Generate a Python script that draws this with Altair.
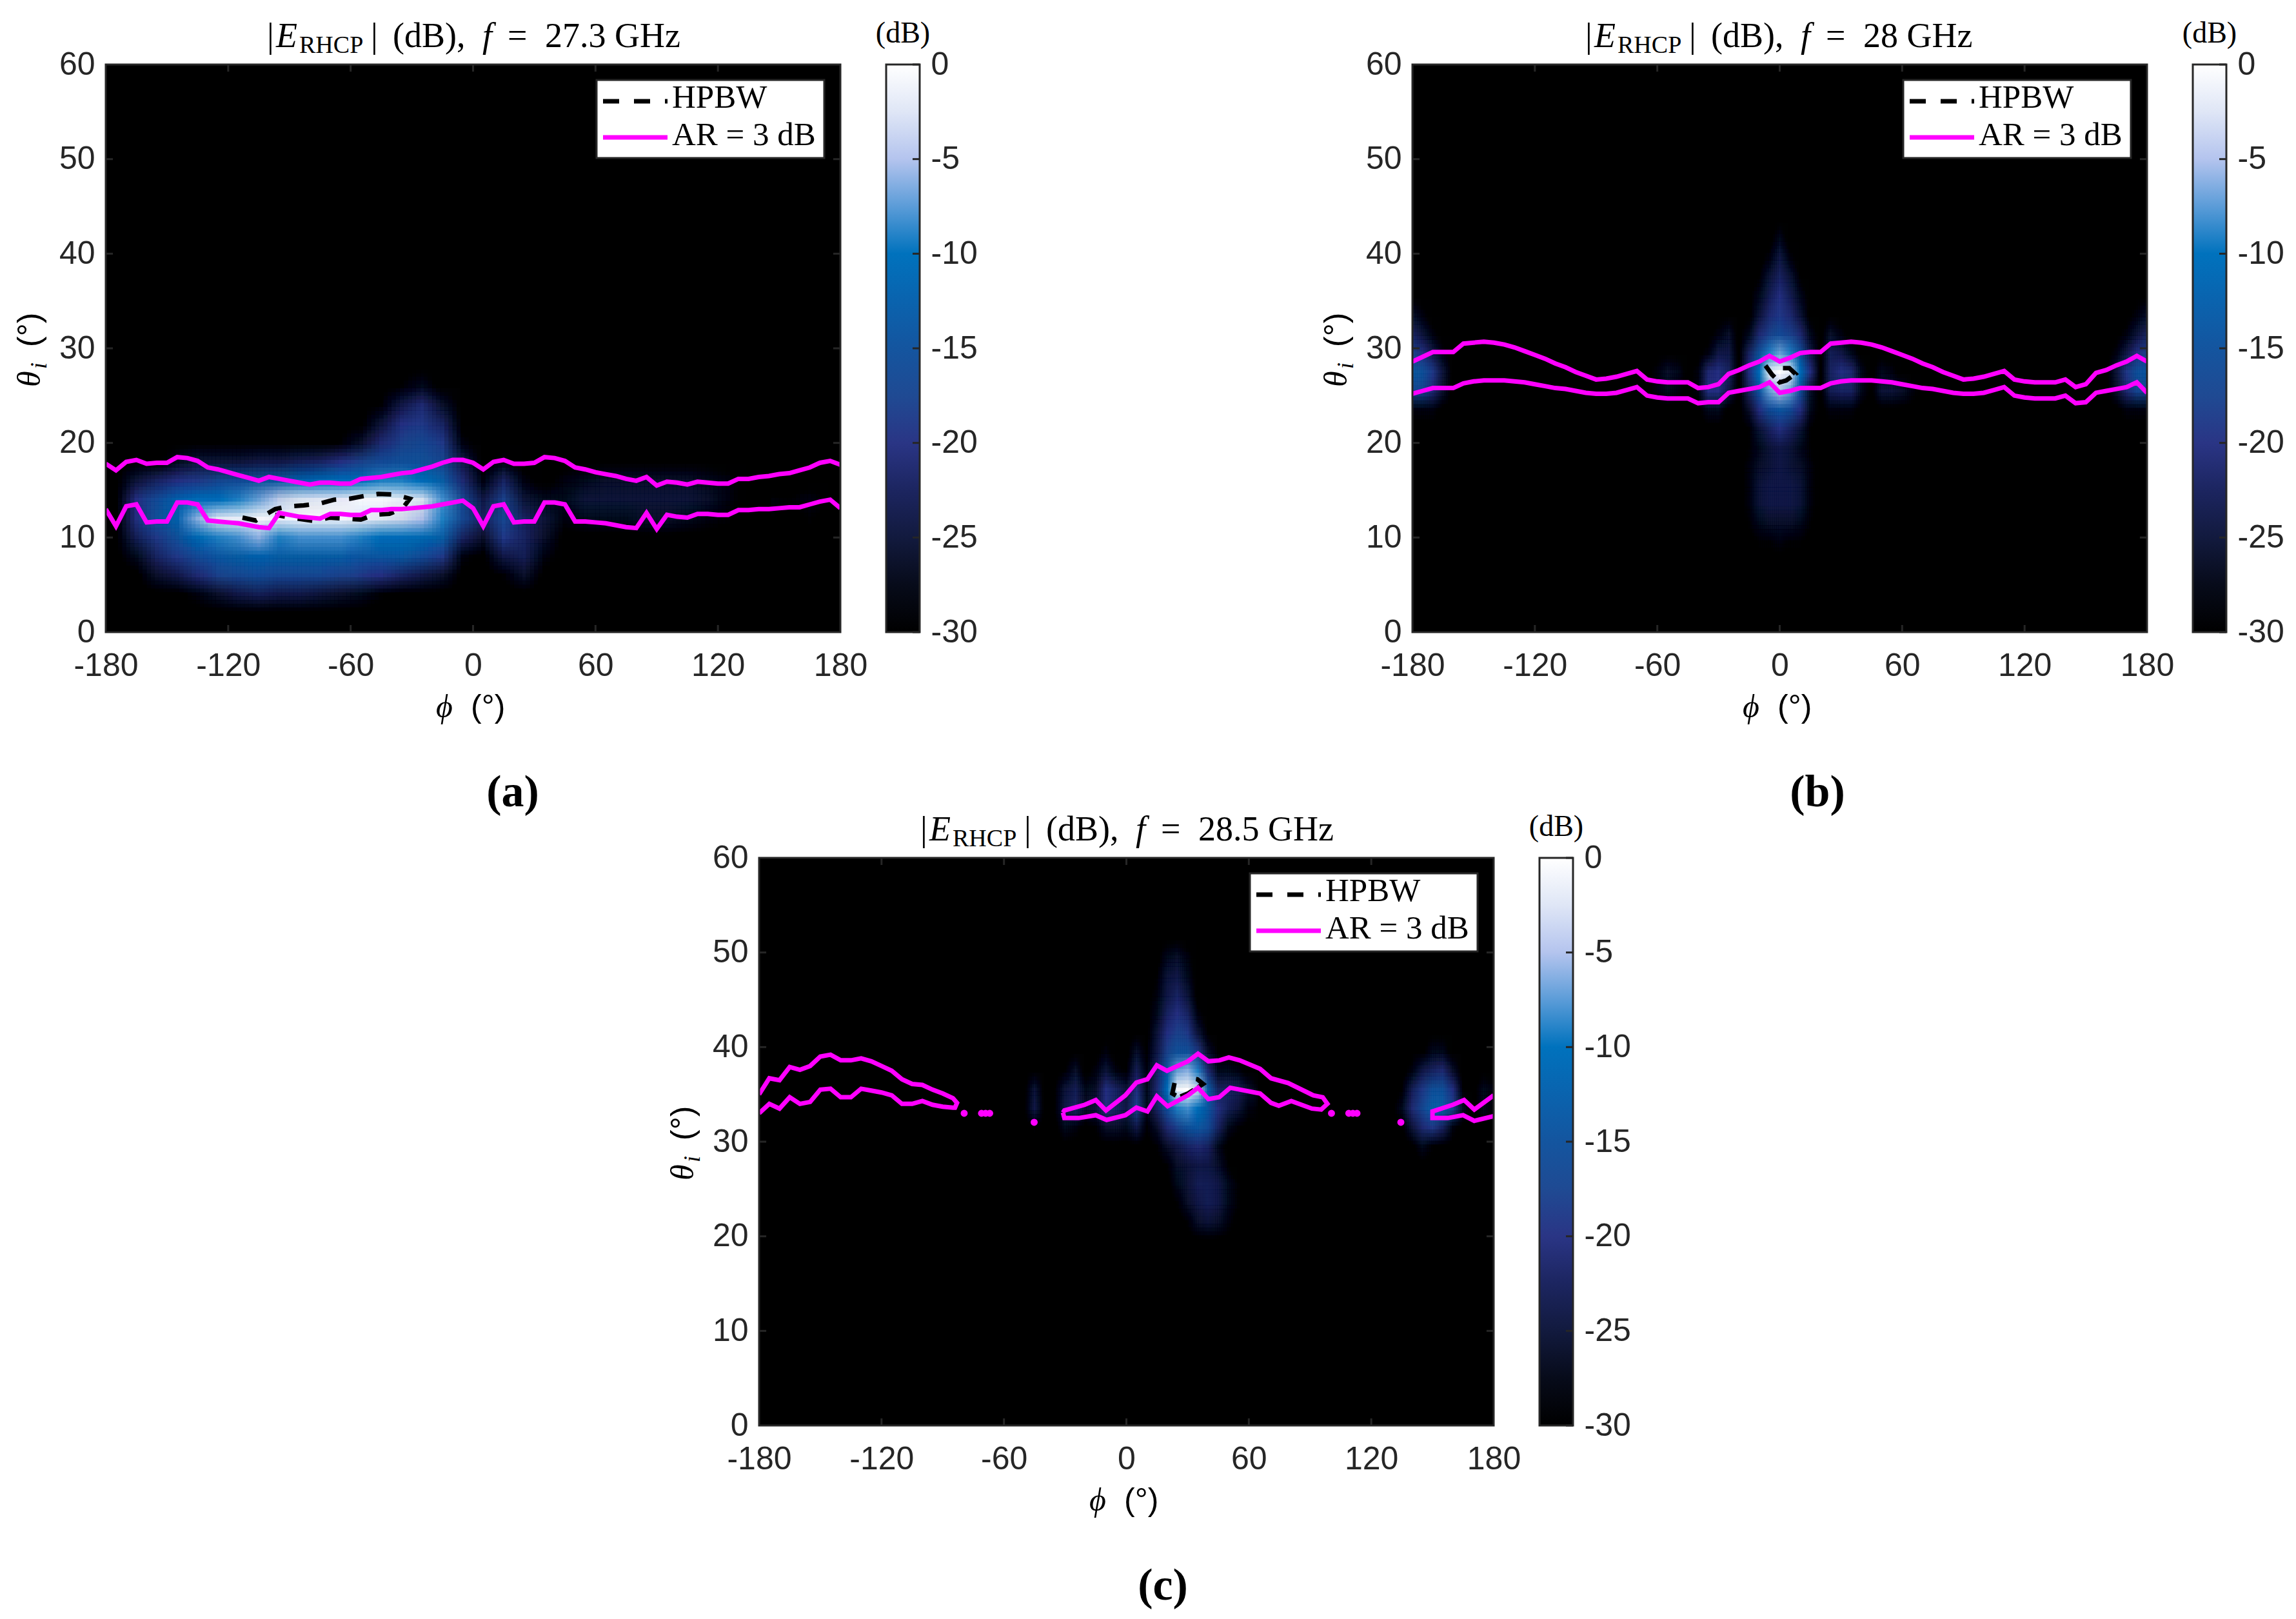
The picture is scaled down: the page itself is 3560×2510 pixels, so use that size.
import altair as alt
import pandas as pd

# ---------- values ----------
PHI_TICKS = [-180, -120, -60, 0, 60, 120, 180]
THETA_TICKS = [0, 10, 20, 30, 40, 50, 60]
CB_TICKS = [0, -5, -10, -15, -20, -25, -30]
CB_VALUES = [-30, -27.5, -25, -22.5, -20, -17.5, -15, -12.5, -10, -7.5, -5, -2.5, 0]
CB_COLORS = ["#000000", "#070b1a", "#121a3e", "#1c2560", "#2a3585", "#1f4a93", "#14559f", "#0a63ae",
             "#0072bd", "#5b9cd8", "#b4c4ee", "#dfe6f6", "#ffffff"]

# attenuation below peak (dB) on theta rows / phi columns
A1 = [[30]*23,
      [30]*14+[29,27,30]+[30]*6,
      [30]*13+[29,24,21,26,30]+[30]*5,
      [30]*13+[25,20,19,22,30]+[30]*5,
      [30]*11+[29,26,21,18,17,19,28]+[30]*5,
      [30,30,30,27,25,25,25,24,24,23,22,20,18,16,15,15,17,24,30,28,30,30,30],
      [30,25,22,20,19,17,16,15,14,12,11,10,10,9,9,10,13,21,28,22,28,30,28],
      [30,20,16,12,10,10,9,7,4,2.5,2,1.5,.5,.5,1,2.5,8,17,24,18,25,27,27],
      [30,20,15,12,6,2,1,.5,1,.5,.5,.5,1,2,3,5,9,17,22,17,22,25,28],
      [30,23,19,15,11,9,8,6,9,8,8,8,9,10,10,11,13,22,26,19,22,26,30],
      [30,27,22,19,16,14,13,12,13,13,13,13,14,14,14,16,19,28,30,24,23,28,30],
      [30,30,26,24,21,18,17,16,17,17,17,18,19,20,22,24,26,30,30,29,26,30,30],
      [30,30,30,30,28,26,24,23,24,24,25,26,27,29,30,30,30,30,30,30,30,30,30],
      [30]*23]
A2 = [[30]*9,
      [27,26,26,26,26,26,27,28,30],
      [25,25,25,25,25,25,26,28,30],
      [27,27,27,26,26,27,28,29,30],
      [30]*9]
A3 = [[30,30,30], [29,28,29], [30,29,30], [30,30,30]]

B_CENTER = [[30]*9,
            [30,30,30,30,27,30,30,30,30],
            [30,30,30,28,24,28,30,30,30],
            [30,30,29,25,22,25,29,30,30],
            [30,30,27,23,20,23,27,30,30],
            [30,30,25,21,19,21,25,30,30],
            [30,27,21,18,16,18,21,27,30],
            [30,22,15,9,7,9,15,24,30],
            [30,20,10,1,0,1,10,20,30],
            [30,22,14,7,5,7,15,26,30],
            [30,26,20,16,14,16,20,27,30],
            [30,29,25,22,20,22,25,29,30],
            [30,29,27,25,24,25,27,29,30],
            [30,28,26,25,24,25,26,28,30],
            [30,28,25,24,24,24,25,28,30],
            [30,28,25,24,24,24,25,28,30],
            [30,29,27,26,26,26,27,29,30],
            [30,30,29,29,28,29,29,30,30],
            [30]*9]
B_LEFT = [[30]*5, [30,30,30,28,26], [30,30,28,24,24], [30,28,21,20,22],
          [30,28,20,20,24], [30,30,27,27,30], [30]*5]
B_RIGHT = [[30]*4, [26,28,30,30], [23,24,27,30], [22,20,21,27],
           [23,22,22,27], [28,28,28,30], [30]*4]
B_FAINT_L = [[30]*4, [30,28,26,27], [30,28,27,28], [30]*4]
B_FAINT_R = [[30]*6, [30,27,28,30,30,30], [30,25,25,26,28,30], [30]*6]
B_EDGE_R = [[30]*5, [30,30,30,28,26], [30,30,28,25,22], [30,28,24,20,18],
            [30,25,19,15,14], [30,26,21,17,17], [30,30,28,28,28], [30]*5]
B_EDGE_L = [[30]*5, [26,28,30,30,30], [22,25,28,30,30], [18,20,24,28,30],
            [14,15,19,25,30], [17,17,21,26,30], [28,28,28,30,30], [30]*5]

C_CENTER = [[30]*11,
            [30,30,27,26,28]+[30]*6,
            [30,29,25,24,27]+[30]*6,
            [30,28,24,22,25]+[30]*6,
            [30,27,22,20,22,28]+[30]*5,
            [30,25,20,18,19,25]+[29]+[30]*4,
            [29,24,18,15,15,19,26,29,30,30,30],
            [28,22,14,7,6,9,21,27,27,28,30],
            [27,21,10,.5,0,3,13,22,22,23,26],
            [27,22,15,9,8,10,14,20,23,25,28],
            [29,26,21,18,15,14,16,22,27,29,30],
            [30,29,26,24,22,21,22,27,30,30,30],
            [30,30,29,26,25,24,24,26,29,30,30],
            [30,30,30,27,25,23,23,24,27,29,30],
            [30,30,30,29,26,24,23,24,27,29,30],
            [30,30,30,30,29,26,25,26,28,30,30],
            [30]*11]
C_LEFT = [[30]*12,
          [30,30,30,30,30,30,30,30,28,30,30,26],
          [30,30,30,30,29,26,30,28,25,28,29,23],
          [30,25,30,29,25,23,27,26,20,22,25,20],
          [30,24,30,29,24,22,26,25,20,22,24,18],
          [30,29,30,30,27,28,30,29,26,26,27,24],
          [30]*12]
C_RIGHT = [[30]*11,
           [30,30,30,30,27,27,30,30,30,30,30],
           [30,30,28,24,22,21,26,30,30,30,30],
           [30,29,23,19,15,15,20,29,30,27,28],
           [30,27,21,17,13,13,18,27,30,27,29],
           [30,30,25,21,19,22,28,30,30,30,30],
           [30,30,30,27,29,30,30,30,30,30,30],
           [30]*11]

# AR = 3 dB contours, 5 degree columns
PHI_5 = list(range(-180, 185, 5))
A_UP = [17.8,17.1,18,18.2,17.8,17.9,17.9,18.5,18.4,18.1,17.4,17.2,16.9,16.6,16.3,16.0,16.4,16.2,16.0,15.8,15.6,15.8,15.8,15.7,15.7,16.2,16.3,16.4,16.6,16.8,16.9,17.2,17.5,17.9,18.2,18.2,17.9,17.2,18,18.2,17.8,17.8,17.9,18.5,18.4,18.1,17.4,17.2,16.9,16.7,16.5,16.2,16.0,16.4,15.5,15.9,15.8,15.6,15.9,15.8,15.7,15.7,16.2,16.2,16.4,16.5,16.7,16.8,17.1,17.4,17.9,18.1,17.7]
A_LO = [13,11.2,13.3,13.5,11.6,11.7,11.7,13.7,13.7,13.5,11.8,11.7,11.6,11.5,11.3,11.1,11.0,12.6,12.4,12.2,12.1,12.0,12.5,12.5,12.4,12.4,12.9,12.9,13,13,13.1,13.2,13.3,13.5,13.7,13.9,13.1,11.2,13.3,13.5,11.6,11.7,11.7,13.7,13.7,13.5,11.7,11.7,11.6,11.5,11.3,11.1,11.0,12.6,10.9,12.4,12.2,12.1,12.5,12.5,12.4,12.4,12.9,12.9,13,13,13.1,13.2,13.2,13.5,13.8,14,13.1]
B_UP = [28.6,29.1,29.6,29.6,29.6,30.5,30.6,30.7,30.6,30.4,30.1,29.7,29.3,28.9,28.4,28,27.5,27.1,26.7,26.8,27,27.3,27.6,26.7,26.5,26.4,26.4,26.4,25.8,25.9,26.2,27.3,27.7,28.2,28.6,29.2,28.6,29,29.5,29.6,29.6,30.5,30.6,30.7,30.6,30.4,30.1,29.7,29.3,28.9,28.4,28,27.5,27.1,26.7,26.8,27,27.3,27.6,26.7,26.5,26.4,26.4,26.4,26.7,25.9,26.2,27.4,27.7,28.2,28.6,29.2,28.6]
B_LO = [25.2,25.5,25.8,25.8,25.8,26.3,26.5,26.6,26.6,26.6,26.5,26.4,26.2,26,25.8,25.7,25.5,25.3,25.2,25.2,25.3,25.6,25.9,25,24.8,24.7,24.7,24.7,24.2,24.3,24.3,25.3,25.5,25.7,25.9,26.4,25.3,25.5,25.8,25.8,25.8,26.3,26.5,26.6,26.6,26.6,26.5,26.4,26.2,26,25.8,25.7,25.5,25.3,25.2,25.2,25.3,25.6,25.9,25,24.8,24.7,24.7,24.7,25,24.2,24.3,25.3,25.5,25.7,25.9,26.4,25.3]

C1_PHI = [-180,-175,-170,-165,-160,-155,-150,-145,-140,-135,-130,-125,-120,-115,-110,-105,-100,-95,-90,-85,-83,-84,-85,-90,-95,-100,-105,-110,-115,-120,-125,-130,-135,-140,-145,-150,-155,-160,-165,-170,-175,-180]
C1_TH = [35,36.7,36.5,37.9,37.6,38,39,39.2,38.6,38.6,38.8,38.5,38,37.5,36.6,36.1,36,35.5,35.1,34.6,34.1,33.6,33.6,33.7,33.9,34.3,34,34,34.9,35.2,35.4,35.6,34.7,34.7,35.6,35.5,34.2,34,34.7,33.5,34,33]
C2_PHI = [-31.1,-30.4,-20.4,-15,-10,-0.5,4.9,10.3,14.9,19.9,30.2,35.1,40.2,45.6,50.2,55.5,65.5,70.9,79.3,91.6,96.2,98.5,95.5,90.9,80.8,74.7,70.9,65.5,50.9,45.5,40.2,35.1,30.2,20.2,14.9,10.3,4.9,-0.5,-9.7,-15,-23.4,-30.4,-31.1]
C2_TH = [33.07,33.3,33.9,34.4,33.3,34.9,36.25,36.6,38.07,37.5,38.5,39.3,38.5,38.6,38.9,38.6,37.7,36.7,36.2,34.9,34.7,34,33.4,33.5,34.3,33.8,34.1,35.1,35.7,34.7,34.5,35.7,34.9,33.75,34.8,33.2,33.6,32.8,32.3,32.8,32.5,32.5,33.07]
C3_PHI = [180,170.5,165.5,160,150,150,157.5,165,170.5,180]
C3_TH = [34.9,33.4,34.4,33.9,33.2,32.5,32.5,32.8,32.2,32.7]
C_DOT_PHI = [-79.5,-71,-69,-67,-45.2,100.5,109,111,113,134.5]
C_DOT_TH = [33,33,33,33,32.05,33,33,33,33,32.05]

A_HP_PHI = [-113,-106.4,-101,-97,-90.4,-83,-75,-68,-60.5,-53,-46.5,-38.5,-31,-34.5,-41,-48.5,-55,-63,-70.5,-78,-89,-97]
A_HP_TH = [12.1,11.8,12.5,13,13.3,13.4,13.6,14,14.1,14.4,14.6,14.55,14.1,13.1,12.5,12.4,11.9,12,12.1,11.75,12.1,12.4]
B_HP_PHI = [1.6,4.7,7.7,3.2,0,-3.2,-3.7,-7.4]
B_HP_TH = [27.9,27.9,27.3,26.6,26.4,27.1,27.2,28.3]
C_HP_PHI = [23.6,22.5,25.6,30.2,34.8,37.6,34.8,31.7]
C_HP_TH = [36.2,35.1,34.7,35.1,35.7,36.1,36.6,36.7]

# ---------- style ----------
W, H = 1139, 880
INK = "#262626"
MAG = "#ff00ff"
SANS = "Liberation Sans"
SERIF = "Liberation Serif"
BLUR = [-0.4, -0.2, 0.0, 0.2, 0.4]
xs = alt.Scale(domain=[-180, 180], nice=False, zero=False)
ys = alt.Scale(domain=[0, 60], nice=False, zero=False)
cs = alt.Scale(domain=CB_VALUES, range=CB_COLORS, interpolate="rgb", clamp=True)
LBL = dict(labelFont=SANS, labelFontSize=50, labelColor=INK, tickSize=0, domain=False, grid=False,
           labelFlush=False, labelOverlap=False, labelExpr="'' + datum.value", title=None)
XAX = alt.Axis(values=PHI_TICKS, labelPadding=27, **LBL)
YAX = alt.Axis(values=THETA_TICKS, labelPadding=17, **LBL)


def cells(*patches):
    out = []
    for phi0, dphi, top, dth, rows in patches:
        for r, row in enumerate(rows):
            for c, v in enumerate(row):
                out.append(dict(phi=phi0 + c * dphi, theta=top - r * dth, dphi=dphi, dth=dth, db=-v))
    return pd.DataFrame(out)


def txt(s, x, y, size, font=SERIF, style="normal", weight="normal", angle=0, align="left", color="black"):
    return alt.Chart(pd.DataFrame({"t": [s]})).mark_text(
        font=font, fontSize=size, fontStyle=style, fontWeight=weight, angle=angle,
        align=align, baseline="alphabetic", color=color
    ).encode(text="t:N", x=alt.value(x), y=alt.value(y))


def line(phi, th, color, width, dash=None):
    d = pd.DataFrame({"phi": phi, "th": th, "i": range(len(phi))})
    kw = dict(color=color, strokeWidth=width, clip=True, strokeJoin="miter", strokeMiterLimit=3)
    if dash:
        kw["strokeDash"] = dash
    return alt.Chart(d).mark_line(**kw).encode(
        x=alt.X("phi:Q", scale=xs, axis=XAX), y=alt.Y("th:Q", scale=ys, axis=YAX), order="i:Q")


def panel(df, freq, letter, title_dx, lines, letter_x):
    base = alt.Chart(pd.DataFrame({"a": [-180], "b": [180], "c": [0], "d": [60]})).mark_rect(color="black").encode(
        x=alt.X("a:Q", scale=xs, axis=XAX), x2="b:Q",
        y=alt.Y("c:Q", scale=ys, axis=YAX), y2="d:Q")
    layers = [base]
    k = 0
    for fy in BLUR:
        for fx in BLUR:
            k += 1
            layers.append(alt.Chart(df).transform_calculate(
                x0=f"datum.phi+({fx}-0.5)*datum.dphi", x1=f"datum.phi+({fx}+0.5)*datum.dphi",
                y0=f"datum.theta+({fy}-0.5)*datum.dth", y1=f"datum.theta+({fy}+0.5)*datum.dth"
            ).mark_rect(clip=True, opacity=1.0 / k, strokeWidth=0).encode(
                x=alt.X("x0:Q", scale=xs, axis=XAX), x2="x1:Q",
                y=alt.Y("y0:Q", scale=ys, axis=YAX), y2="y1:Q",
                color=alt.Color("db:Q", scale=cs, legend=None)))
    layers += lines
    # inward ticks
    tick_rows = ([dict(x0=v, x1=v, y0=0, y1=0.75) for v in PHI_TICKS[1:-1]]
                 + [dict(x0=v, x1=v, y0=59.25, y1=60) for v in PHI_TICKS[1:-1]]
                 + [dict(x0=-180, x1=-176.5, y0=v, y1=v) for v in THETA_TICKS[1:-1]]
                 + [dict(x0=176.5, x1=180, y0=v, y1=v) for v in THETA_TICKS[1:-1]])
    layers.append(alt.Chart(pd.DataFrame(tick_rows)).mark_rule(color=INK, strokeWidth=3).encode(
        x=alt.X("x0:Q", scale=xs, axis=XAX), x2="x1:Q", y=alt.Y("y0:Q", scale=ys, axis=YAX), y2="y1:Q"))
    layers.append(alt.Chart(pd.DataFrame({"a": [-180], "b": [180], "c": [0], "d": [60]})).mark_rect(
        filled=False, stroke=INK, strokeWidth=3).encode(
        x=alt.X("a:Q", scale=xs, axis=XAX), x2="b:Q", y=alt.Y("c:Q", scale=ys, axis=YAX), y2="d:Q"))
    # legend box
    layers.append(alt.Chart(pd.DataFrame({"a": [0]})).mark_rect(color="white", stroke=INK, strokeWidth=3).encode(
        x=alt.value(761), x2=alt.value(1114), y=alt.value(24), y2=alt.value(145)))
    layers.append(alt.Chart(pd.DataFrame({"a": [0]})).mark_rule(color="black", strokeWidth=7, strokeDash=[25, 23]).encode(
        x=alt.value(771), x2=alt.value(871), y=alt.value(57)))
    layers.append(alt.Chart(pd.DataFrame({"a": [0]})).mark_rule(color=MAG, strokeWidth=7).encode(
        x=alt.value(771), x2=alt.value(871), y=alt.value(113)))
    layers += [txt("HPBW", 878, 67, 51), txt("AR = 3 dB", 878, 125, 51)]
    # title pieces
    d = title_dx
    layers += [txt("|", 250 + d, -27, 54), txt("E", 264 + d, -27, 54, style="italic"),
               txt("RHCP", 300 + d, -18, 38), txt("|", 411 + d, -27, 54),
               txt("(dB),", 445 + d, -27, 54), txt("f", 584 + d, -27, 54, style="italic"),
               txt("=", 623 + d, -27, 54), txt(freq + " GHz", 681 + d, -27, 54)]
    # axis titles
    layers += [txt("\u03d5", 512, 1012, 50, style="italic"), txt("(\u00b0)", 566, 1012, 50, font=SANS),
               txt("\u03b8", -102, 500, 50, style="italic", angle=270),
               txt("i", -92, 472, 36, style="italic", angle=270),
               txt("(\u00b0)", -102, 438, 50, font=SANS, angle=270)]
    layers.append(txt(letter, letter_x, 1150, 70, weight="bold", align="center"))
    return alt.layer(*layers).properties(width=W, height=H)


def colorbar():
    grad = alt.LinearGradient(gradient="linear", x1=0, x2=0, y1=1, y2=0,
                              stops=[alt.GradientStop(color=c, offset=(v + 30) / 30)
                                     for v, c in zip(CB_VALUES, CB_COLORS)])
    yc = alt.Scale(domain=[-30, 0], nice=False, zero=False)
    one = pd.DataFrame({"a": [0]})
    rect = alt.Chart(one).mark_rect(color=grad).encode(
        x=alt.value(0), x2=alt.value(52), y=alt.value(0), y2=alt.value(H))
    tk = alt.Chart(pd.DataFrame({"v": CB_TICKS})).mark_rule(color=INK, strokeWidth=3).encode(
        x=alt.value(41), x2=alt.value(52),
        y=alt.Y("v:Q", scale=yc, axis=alt.Axis(orient="right", values=CB_TICKS, labelFont=SANS, labelFontSize=50,
                                               labelColor=INK, tickSize=0, domain=False, grid=False, title=None,
                                               labelFlush=False, labelPadding=17, labelExpr="'' + datum.value")))
    frame = alt.Chart(one).mark_rect(filled=False, stroke=INK, strokeWidth=3).encode(
        x=alt.value(0), x2=alt.value(52), y=alt.value(0), y2=alt.value(H))
    return alt.layer(rect, tk, frame, txt("(dB)", 26, -34, 46, align="center")).properties(width=52, height=H)


def gap(w):
    return alt.Chart(pd.DataFrame({"a": [0]})).mark_point(opacity=0).encode(
        x=alt.value(0), y=alt.value(0)).properties(width=w, height=H)


df_a = cells((-175, 10, 28, 2, A1), (55, 10, 18, 2, A2), (155, 10, 16, 2, A3))
df_b = cells((-20, 5, 43.5, 2, B_CENTER), (-45, 5, 33.5, 2, B_LEFT), (25, 5, 33.5, 2, B_RIGHT),
             (-65, 5, 29.5, 2, B_FAINT_L), (45, 5, 29.5, 2, B_FAINT_R),
             (160, 5, 35.5, 2, B_EDGE_R), (-180, 5, 35.5, 2, B_EDGE_L))
df_c = cells((10, 5, 51.5, 2, C_CENTER), (-50, 5, 41.5, 2, C_LEFT), (130, 5, 41.5, 2, C_RIGHT))

a_lines = [line(A_HP_PHI, A_HP_TH, "black", 7, [23, 20]), line(PHI_5, A_UP, MAG, 7), line(PHI_5, A_LO, MAG, 7)]
b_lines = [line(B_HP_PHI, B_HP_TH, "black", 7, [23, 8]), line(PHI_5, B_UP, MAG, 7), line(PHI_5, B_LO, MAG, 7)]
dots = alt.Chart(pd.DataFrame({"phi": C_DOT_PHI, "th": C_DOT_TH})).mark_circle(color=MAG, opacity=1, size=120).encode(
    x=alt.X("phi:Q", scale=xs, axis=XAX), y=alt.Y("th:Q", scale=ys, axis=YAX))
c_lines = [line(C_HP_PHI, C_HP_TH, "black", 7, [23, 8]), line(C1_PHI, C1_TH, MAG, 7),
           line(C2_PHI, C2_TH, MAG, 7), line(C3_PHI, C3_TH, MAG, 7), dots]

row1 = alt.hconcat(panel(df_a, "27.3", "(a)", 0, a_lines, 631), gap(71), colorbar(), gap(764),
                   panel(df_b, "28", "(b)", 18, b_lines, 628), gap(71), colorbar(), spacing=0, bounds="flush")
row2 = alt.hconcat(gap(1013), panel(df_c, "28.5", "(c)", 0, c_lines, 626), gap(71), colorbar(), spacing=0, bounds="flush")

chart = alt.vconcat(row1, row2, spacing=1230, bounds="flush").properties(
    padding={"left": 14, "top": 21, "right": 5, "bottom": 5}
).configure_view(stroke=None)

chart.save("out.html", embed_options={"renderer": "svg", "actions": False})
